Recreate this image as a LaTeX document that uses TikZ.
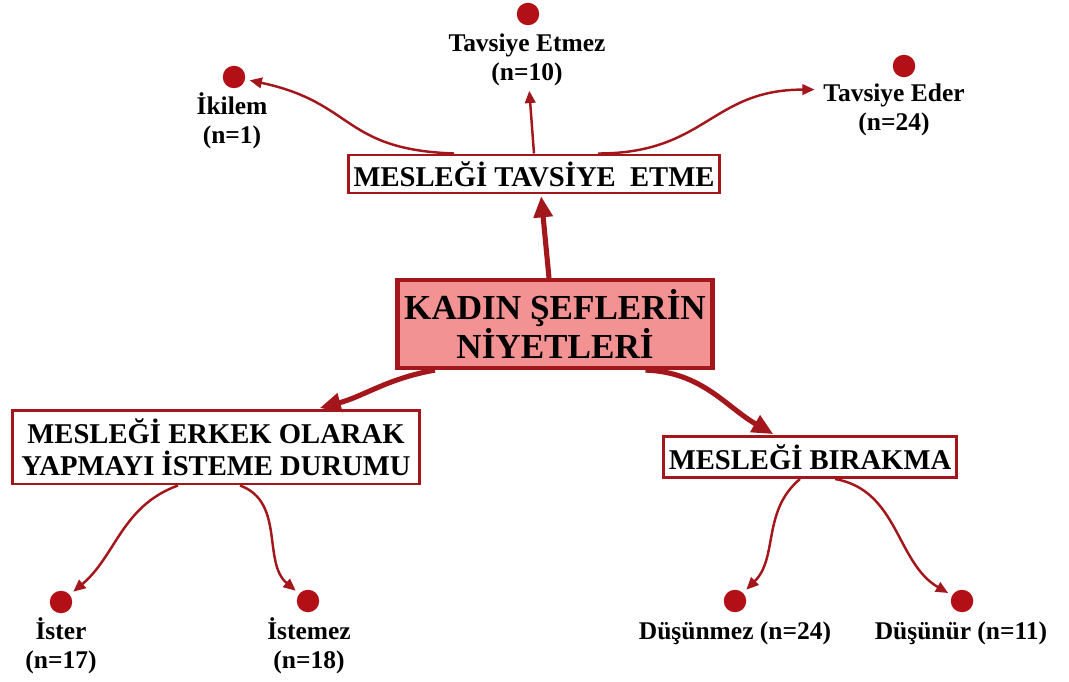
\documentclass[tikz,border=0pt]{standalone}
\usepackage{fontspec}
\setmainfont{Liberation Serif}
\usetikzlibrary{
  arrows.meta,
  calc,
  positioning,
}
\definecolor{koyukirmizi}{HTML}{A3161B}
\definecolor{nokta}{HTML}{B30F17}
\definecolor{pembe}{HTML}{F39292}
\tikzset{
  >={Triangle[]},
  shorten >=1pt,
  kutu/.style={draw=koyukirmizi, line width=1.7pt, fill=white, align=center,
    inner sep=0pt, font=\fontsize{16.3}{18.2}\selectfont\bfseries},
  anakutu/.style={kutu, line width=2.4pt, fill=pembe,
    font=\fontsize{20}{22}\selectfont\bfseries},
  dot/.style={circle, fill=nokta, minimum size=0.45cm, inner sep=0pt},
  etiket/.style={align=center, inner sep=0pt,
    font=\fontsize{14.5}{16.5}\selectfont\bfseries},
  anaok/.style={draw=koyukirmizi, line width=2.9pt,
    -{Triangle[length=12pt, width=10.5pt]}},
  ok/.style={draw=koyukirmizi, line width=1.4pt, shorten >=2.5pt,
    -{Triangle[length=7pt, width=6pt]}},
}

\begin{document}
\begin{tikzpicture}[x=0.02cm, y=0.02cm]
  \useasboundingbox (0,0) rectangle (1069,681);

  % boxes
  \node [anakutu, minimum width=6.3cm, minimum height=1.76cm] (kadin) at (555,357)
    {KADIN ŞEFLERİN\\NİYETLERİ};
  \node [kutu, minimum width=7.44cm, minimum height=0.76cm] (tavsiye) at (534,507)
    {MESLEĞİ TAVSİYE\ \ ETME};
  \node [kutu, minimum width=8.16cm, minimum height=1.48cm] (erkek) at (216,234)
    {MESLEĞİ ERKEK OLARAK\\YAPMAYI İSTEME DURUMU};
  \node [kutu, minimum width=5.86cm, minimum height=0.82cm] (birakma) at (810,224)
    {MESLEĞİ BIRAKMA};

  % dots and labels
  \node [dot] (etmezdot) at (528,667) {};
  \node [etiket] (etmez) at (527,621) {Tavsiye Etmez\\(n=10)};
  \node [dot] (ikilemdot) at (234,604) {};
  \node [etiket] (ikilem) at (232,560) {İkilem\\(n=1)};
  \node [dot] (ederdot) at (904,615) {};
  \node [etiket] (eder) at (894,571) {Tavsiye Eder\\(n=24)};
  \node [dot] (isterdot) at (61,79) {};
  \node [etiket] (ister) at (61,35) {İster\\(n=17)};
  \node [dot] (istemezdot) at (308,80) {};
  \node [etiket] (istemez) at (309,35) {İstemez\\(n=18)};
  \node [dot] (dusunmezdot) at (735,80) {};
  \node [etiket] (dusunmez) at (735,48) {Düşünmez (n=24)};
  \node [dot] (dusunurdot) at (962,80) {};
  \node [etiket] (dusunur) at (961,48) {Düşünür (n=11)};

  % arrows
  \draw [anaok] ($(kadin.north)+(-6,0)$) -- ($(tavsiye.south)+(7,0)$);
  \draw [anaok] (kadin.-159) to[out=190, in=15] ($(erkek.north)+(102,0)$);
  \draw [anaok] (kadin.-27) to[out=-2, in=150] (birakma.148);

  \draw [ok] ($(tavsiye.north)+(-80,0)$) to[out=178, in=-12, looseness=1.3] (ikilemdot);
  \draw [ok] (tavsiye.north) -- (etmez);
  \draw [ok] ($(tavsiye.north)+(64,0)$) to[out=0, in=180, looseness=1.2] ($(eder.north west)+(-4,-6)$);
  \draw [ok] ($(erkek.south)+(-38,0)$) to[out=200, in=40] (isterdot);
  \draw [ok] ($(erkek.south)+(24,0)$) to[out=-20, in=140] (istemezdot);
  \draw [ok] ($(birakma.south)+(-10,0)$) to[out=220, in=45] (dusunmezdot);
  \draw [ok] ($(birakma.south)+(25,0)$) to[out=-10, in=150] (dusunurdot);
\end{tikzpicture}
\end{document}
